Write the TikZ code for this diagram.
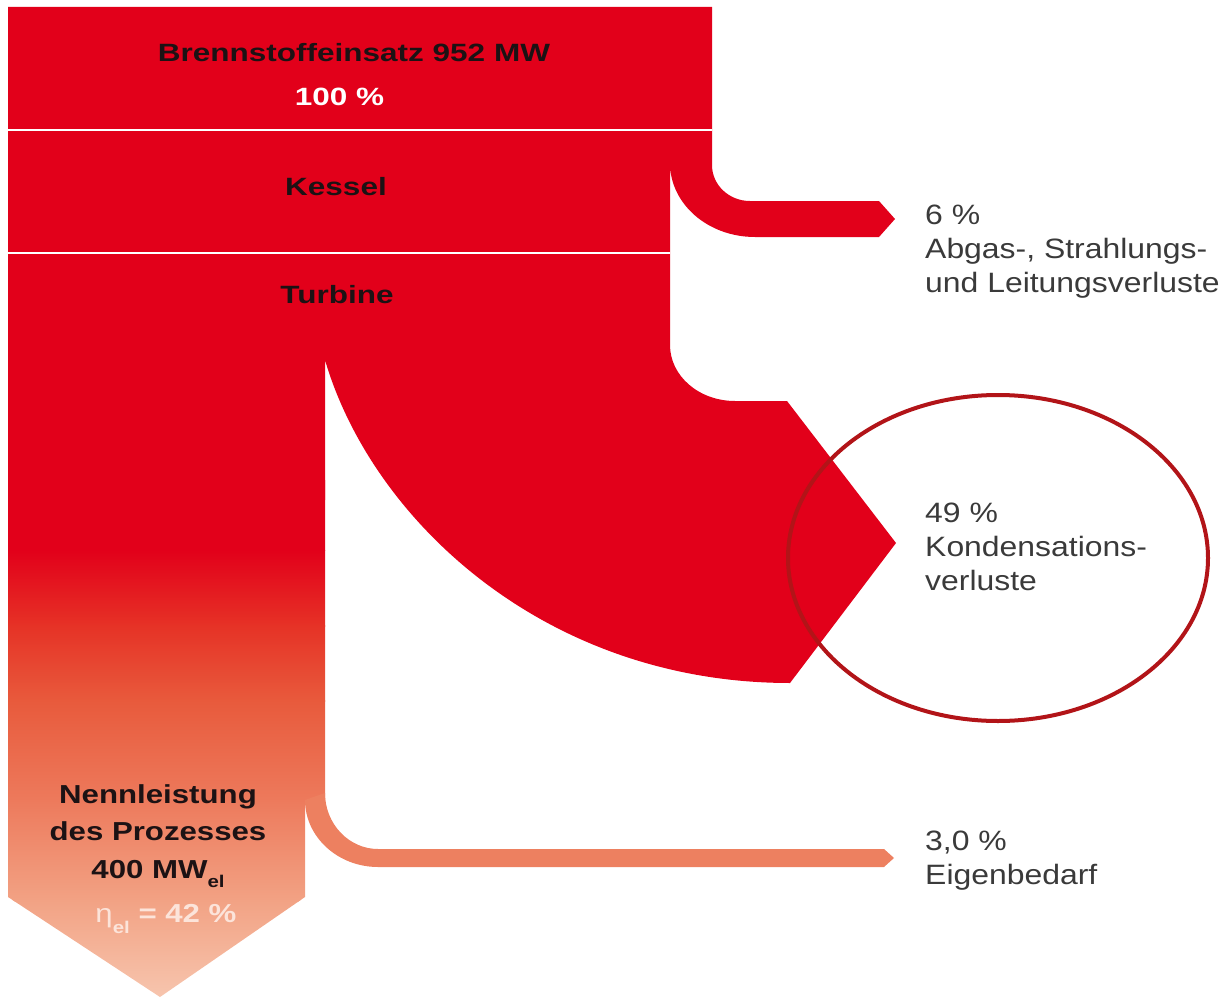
\documentclass[tikz,border=0pt]{standalone}
\usepackage{fontspec}
\setmainfont{Liberation Sans}
\newfontfamily\bfw{Liberation Sans}[FakeStretch=1.26]
\newfontfamily\bfn{Liberation Sans}[FakeStretch=1.2]
\newfontfamily\ltf{Liberation Sans}[FakeStretch=1.14]
\definecolor{cred}{RGB}{226,0,26}
\definecolor{g1}{RGB}{230,50,38}
\definecolor{g2}{RGB}{232,90,60}
\definecolor{g3}{RGB}{237,122,92}
\definecolor{g4}{RGB}{242,162,132}
\definecolor{g5}{RGB}{247,198,175}
\definecolor{corange}{RGB}{237,128,96}
\definecolor{cring}{RGB}{178,20,24}
\definecolor{cdark}{RGB}{28,18,20}
\definecolor{cgray}{RGB}{58,58,58}
\definecolor{cpale}{RGB}{252,228,218}
\newcommand\subel[2]{\raisebox{#1}{\fontsize{17}{17}\selectfont #2}}
\tikzset{
  btext/.style={inner sep=0pt, text=cdark, font=\bfw\bfseries\fontsize{25}{29}\selectfont},
  ntext/.style={inner sep=0pt, text=cdark, font=\bfn\bfseries\fontsize{26}{37.5}\selectfont},
  ltext/.style={inner sep=0pt, text=cgray, font=\ltf\fontsize{28}{34}\selectfont},
}
\begin{document}
\begin{tikzpicture}[x=1pt,y=-1pt,line join=miter]
\useasboundingbox (0,0) rectangle (1229,998);
% gradient column
\begin{scope}
\clip (8,480) -- (325,480) -- (325,800) -- (305,800) -- (305,897) -- (160,997) -- (8,897) -- cycle;
\fill[cred] (0,470) rectangle (340,551);
\shade[top color=cred, bottom color=g1] (0,550) rectangle (340,626);
\shade[top color=g1, bottom color=g2] (0,625) rectangle (340,701);
\shade[top color=g2, bottom color=g3] (0,700) rectangle (340,801);
\shade[top color=g3, bottom color=g4] (0,800) rectangle (340,901);
\shade[top color=g4, bottom color=g5] (0,900) rectangle (340,1000);
\end{scope}
% 3 % branch
\fill[corange] (325,793) .. controls (325,824) and (349,849) .. (378,849) -- (884,849) -- (894,858) -- (884,867) -- (378,867) .. controls (338,867) and (305,837) .. (305,800) -- cycle;
% main red flow
\fill[cred] (8,7) -- (712,7) -- (712,165) .. controls (712,185) and (729,201) .. (750,201) -- (879,201) -- (895,219) -- (879,237) -- (755,237) .. controls (708,237) and (670,204) .. (670,163) -- (670,345) .. controls (670,376) and (699,401) .. (735,401) -- (787,401) -- (896,543) -- (790,683) .. controls (545,683) and (372,520) .. (325,360) -- (325,500) -- (8,500) -- cycle;
% separators
\draw[white, line width=2] (8,130) -- (712,130);
\draw[white, line width=2] (8,253) -- (670,253);
% highlight ring
\draw[cring, line width=4] (998,558) ellipse [x radius=210, y radius=163];
% block labels
\node[btext, anchor=base] (brenn) at (354,62) {Brennstoffeinsatz 952 MW};
\node[btext, text=white, anchor=base] (hundert) at (339.5,105) {100 \%};
\node[btext, anchor=base] (kessel) at (336,195) {Kessel};
\node[btext, anchor=base] (turbine) at (337,303) {Turbine};
\node[ntext, anchor=base] (nenn) at (158,803) {\begin{tabular}[t]{@{}c@{}}Nennleistung\\des Prozesses\\400 MW\subel{-9pt}{el}\end{tabular}};
\node[ntext, text=cpale, anchor=base] (eta) at (166,922) {{\mdseries η}\subel{-11pt}{el} = 42 \%};
% loss labels
\node[ltext, anchor=base west] (l6) at (925,224) {\begin{tabular}[t]{@{}l@{}}6 \%\\Abgas-, Strahlungs-\\und Leitungsverluste\end{tabular}};
\node[ltext, anchor=base west] (l49) at (925,522) {\begin{tabular}[t]{@{}l@{}}49 \%\\Kondensations-\\verluste\end{tabular}};
\node[ltext, anchor=base west] (l3) at (925,850) {\begin{tabular}[t]{@{}l@{}}3,0 \%\\Eigenbedarf\end{tabular}};
\end{tikzpicture}
\end{document}
